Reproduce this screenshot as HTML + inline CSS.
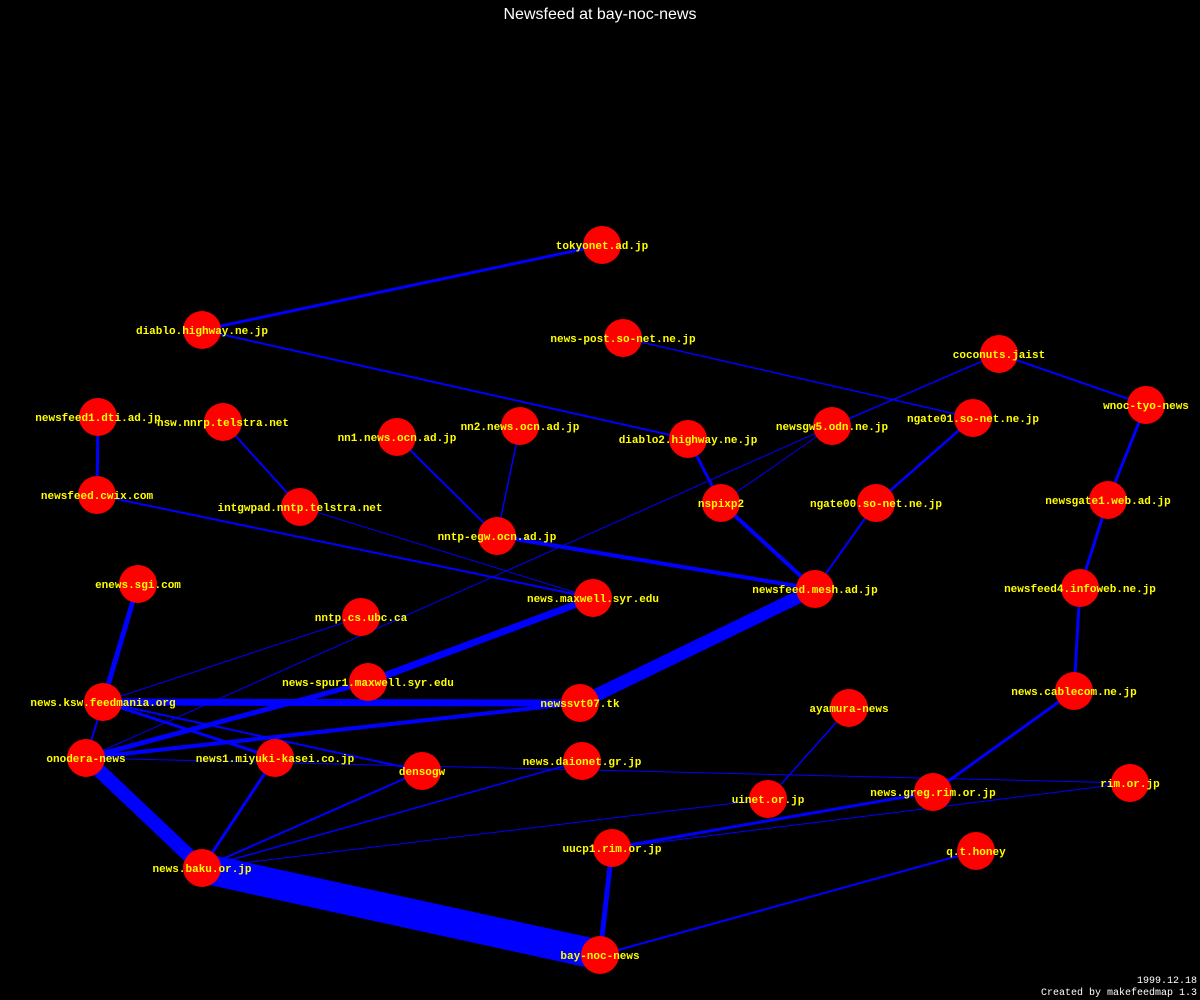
<!DOCTYPE html>
<html><head><meta charset="utf-8"><style>
html,body{margin:0;padding:0;background:#000;}
svg{display:block}
text.l{font-family:"Liberation Mono",monospace;font-size:11px;font-weight:bold;fill:#ffff00;text-anchor:middle}
</style></head><body>
<svg width="1200" height="1000" viewBox="0 0 1200 1000" xmlns="http://www.w3.org/2000/svg">
<rect width="1200" height="1000" fill="#000"/>
<text x="600" y="19" fill="#fff" font-family="Liberation Sans Narrow, Liberation Sans, sans-serif" font-size="16" text-anchor="middle">Newsfeed at bay-noc-news</text>
<g stroke="#0000ff" stroke-linecap="round" fill="none">
<line x1="602" y1="245" x2="202" y2="330" stroke-width="3"/>
<line x1="202" y1="330" x2="688" y2="439" stroke-width="2"/>
<line x1="623" y1="338" x2="973" y2="418" stroke-width="1.5"/>
<line x1="999" y1="354" x2="1146" y2="405" stroke-width="2"/>
<line x1="999" y1="354" x2="832" y2="426" stroke-width="1.5"/>
<line x1="832" y1="426" x2="86" y2="758" stroke-width="1"/>
<line x1="832" y1="426" x2="721" y2="503" stroke-width="1"/>
<line x1="973" y1="418" x2="876" y2="503" stroke-width="2.5"/>
<line x1="1146" y1="405" x2="1108" y2="500" stroke-width="3"/>
<line x1="1108" y1="500" x2="1080" y2="588" stroke-width="3"/>
<line x1="1080" y1="588" x2="1074" y2="691" stroke-width="3"/>
<line x1="1074" y1="691" x2="933" y2="792" stroke-width="3"/>
<line x1="98" y1="417" x2="97" y2="495" stroke-width="3"/>
<line x1="97" y1="495" x2="593" y2="598" stroke-width="2"/>
<line x1="223" y1="422" x2="300" y2="507" stroke-width="2"/>
<line x1="300" y1="507" x2="593" y2="598" stroke-width="1"/>
<line x1="397" y1="437" x2="497" y2="536" stroke-width="2"/>
<line x1="520" y1="426" x2="497" y2="536" stroke-width="1.5"/>
<line x1="497" y1="536" x2="815" y2="589" stroke-width="4"/>
<line x1="688" y1="439" x2="721" y2="503" stroke-width="3"/>
<line x1="721" y1="503" x2="815" y2="589" stroke-width="4"/>
<line x1="876" y1="503" x2="815" y2="589" stroke-width="2"/>
<line x1="815" y1="589" x2="580" y2="703" stroke-width="13"/>
<line x1="138" y1="584" x2="103" y2="702" stroke-width="5"/>
<line x1="593" y1="598" x2="368" y2="682" stroke-width="7"/>
<line x1="361" y1="617" x2="103" y2="702" stroke-width="1"/>
<line x1="103" y1="702" x2="580" y2="703" stroke-width="7"/>
<line x1="368" y1="682" x2="86" y2="758" stroke-width="5"/>
<line x1="580" y1="703" x2="86" y2="758" stroke-width="4"/>
<line x1="103" y1="702" x2="86" y2="758" stroke-width="2"/>
<line x1="103" y1="702" x2="275" y2="758" stroke-width="3"/>
<line x1="103" y1="702" x2="422" y2="771" stroke-width="2"/>
<line x1="86" y1="758" x2="1130" y2="783" stroke-width="1"/>
<line x1="86" y1="758" x2="202" y2="868" stroke-width="14"/>
<line x1="275" y1="758" x2="202" y2="868" stroke-width="3"/>
<line x1="422" y1="771" x2="202" y2="868" stroke-width="2"/>
<line x1="582" y1="761" x2="202" y2="868" stroke-width="1.5"/>
<line x1="768" y1="799" x2="202" y2="868" stroke-width="1"/>
<line x1="1130" y1="783" x2="612" y2="848" stroke-width="1"/>
<line x1="933" y1="792" x2="612" y2="848" stroke-width="3"/>
<line x1="849" y1="708" x2="768" y2="799" stroke-width="1.5"/>
<line x1="202" y1="868" x2="600" y2="955" stroke-width="30"/>
<line x1="612" y1="848" x2="600" y2="955" stroke-width="5"/>
<line x1="976" y1="851" x2="600" y2="955" stroke-width="2"/>
</g>
<g fill="#ff0000">
<circle cx="602" cy="245" r="19"/><circle cx="202" cy="330" r="19"/><circle cx="623" cy="338" r="19"/>
<circle cx="999" cy="354" r="19"/><circle cx="1146" cy="405" r="19"/><circle cx="98" cy="417" r="19"/>
<circle cx="223" cy="422" r="19"/><circle cx="397" cy="437" r="19"/><circle cx="520" cy="426" r="19"/>
<circle cx="688" cy="439" r="19"/><circle cx="832" cy="426" r="19"/><circle cx="973" cy="418" r="19"/>
<circle cx="97" cy="495" r="19"/><circle cx="300" cy="507" r="19"/><circle cx="497" cy="536" r="19"/>
<circle cx="721" cy="503" r="19"/><circle cx="876" cy="503" r="19"/><circle cx="1108" cy="500" r="19"/>
<circle cx="138" cy="584" r="19"/><circle cx="593" cy="598" r="19"/><circle cx="815" cy="589" r="19"/>
<circle cx="1080" cy="588" r="19"/><circle cx="361" cy="617" r="19"/><circle cx="368" cy="682" r="19"/>
<circle cx="103" cy="702" r="19"/><circle cx="580" cy="703" r="19"/><circle cx="849" cy="708" r="19"/>
<circle cx="1074" cy="691" r="19"/><circle cx="86" cy="758" r="19"/><circle cx="275" cy="758" r="19"/>
<circle cx="422" cy="771" r="19"/><circle cx="582" cy="761" r="19"/><circle cx="768" cy="799" r="19"/>
<circle cx="933" cy="792" r="19"/><circle cx="1130" cy="783" r="19"/><circle cx="612" cy="848" r="19"/>
<circle cx="976" cy="851" r="19"/><circle cx="202" cy="868" r="19"/><circle cx="600" cy="955" r="19"/>
</g>
<g>
<text class="l" x="602" y="249">tokyonet.ad.jp</text>
<text class="l" x="202" y="334">diablo.highway.ne.jp</text>
<text class="l" x="623" y="342">news-post.so-net.ne.jp</text>
<text class="l" x="999" y="358">coconuts.jaist</text>
<text class="l" x="1146" y="409">wnoc-tyo-news</text>
<text class="l" x="98" y="421">newsfeed1.dti.ad.jp</text>
<text class="l" x="223" y="426">nsw.nnrp.telstra.net</text>
<text class="l" x="397" y="441">nn1.news.ocn.ad.jp</text>
<text class="l" x="520" y="430">nn2.news.ocn.ad.jp</text>
<text class="l" x="688" y="443">diablo2.highway.ne.jp</text>
<text class="l" x="832" y="430">newsgw5.odn.ne.jp</text>
<text class="l" x="973" y="422">ngate01.so-net.ne.jp</text>
<text class="l" x="97" y="499">newsfeed.cwix.com</text>
<text class="l" x="300" y="511">intgwpad.nntp.telstra.net</text>
<text class="l" x="497" y="540">nntp-egw.ocn.ad.jp</text>
<text class="l" x="721" y="507">nspixp2</text>
<text class="l" x="876" y="507">ngate00.so-net.ne.jp</text>
<text class="l" x="1108" y="504">newsgate1.web.ad.jp</text>
<text class="l" x="138" y="588">enews.sgi.com</text>
<text class="l" x="593" y="602">news.maxwell.syr.edu</text>
<text class="l" x="815" y="593">newsfeed.mesh.ad.jp</text>
<text class="l" x="1080" y="592">newsfeed4.infoweb.ne.jp</text>
<text class="l" x="361" y="621">nntp.cs.ubc.ca</text>
<text class="l" x="368" y="686">news-spur1.maxwell.syr.edu</text>
<text class="l" x="103" y="706">news.ksw.feedmania.org</text>
<text class="l" x="580" y="707">newssvt07.tk</text>
<text class="l" x="849" y="712">ayamura-news</text>
<text class="l" x="1074" y="695">news.cablecom.ne.jp</text>
<text class="l" x="86" y="762">onodera-news</text>
<text class="l" x="275" y="762">news1.miyuki-kasei.co.jp</text>
<text class="l" x="422" y="775">densogw</text>
<text class="l" x="582" y="765">news.daionet.gr.jp</text>
<text class="l" x="768" y="803">uinet.or.jp</text>
<text class="l" x="933" y="796">news.greg.rim.or.jp</text>
<text class="l" x="1130" y="787">rim.or.jp</text>
<text class="l" x="612" y="852">uucp1.rim.or.jp</text>
<text class="l" x="976" y="855">q.t.honey</text>
<text class="l" x="202" y="872">news.baku.or.jp</text>
<text class="l" x="600" y="959">bay-noc-news</text>
</g>
<text x="1197" y="983" fill="#fff" font-family="Liberation Mono, monospace" font-size="10" text-anchor="end">1999.12.18</text>
<text x="1197" y="995" fill="#fff" font-family="Liberation Mono, monospace" font-size="10" text-anchor="end">Created by makefeedmap 1.3</text>
</svg>
</body></html>
